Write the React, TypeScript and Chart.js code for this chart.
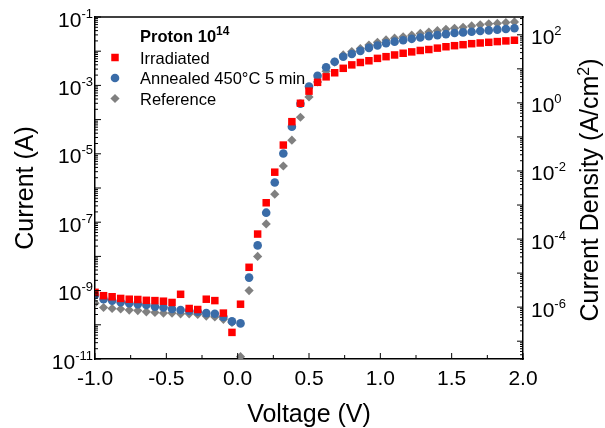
import { useEffect, useRef } from 'react';
import { Chart, registerables } from 'chart.js';

Chart.register(...registerables);

// ---------- data ----------
const voltage = [
  -1.0, -0.94, -0.88, -0.82, -0.76, -0.7, -0.64, -0.58, -0.52, -0.46,
  -0.4, -0.34, -0.28, -0.22, -0.16, -0.1, -0.04, 0.02, 0.08, 0.14,
  0.2, 0.26, 0.32, 0.38, 0.44, 0.5, 0.56, 0.62, 0.68, 0.74,
  0.8, 0.86, 0.92, 0.98, 1.04, 1.1, 1.16, 1.22, 1.28, 1.34,
  1.4, 1.46, 1.52, 1.58, 1.64, 1.7, 1.76, 1.82, 1.88, 1.94,
];

const irradiated = [
  8.9e-10, 7.1e-10, 6.6e-10, 5.9e-10, 5.6e-10, 5.5e-10, 5.2e-10, 5.1e-10, 4.9e-10, 4.5e-10,
  7.8e-10, 3.0e-10, 2.8e-10, 5.6e-10, 5.1e-10, 2.2e-10, 6.0e-11, 4.0e-10, 4.8e-9, 4.5e-8,
  3.7e-7, 2.9e-6, 1.8e-5, 8.7e-5, 3.0e-4, 6.8e-4, 1.23e-3, 1.78e-3, 2.34e-3, 3.16e-3,
  3.98e-3, 4.68e-3, 5.25e-3, 6.17e-3, 6.92e-3, 7.76e-3, 8.71e-3, 9.55e-3, 1.05e-2, 1.12e-2,
  1.23e-2, 1.35e-2, 1.45e-2, 1.55e-2, 1.66e-2, 1.74e-2, 1.82e-2, 1.91e-2, 2.0e-2, 2.09e-2,
];

const annealed = [
  7.4e-10, 5.6e-10, 5.1e-10, 4.6e-10, 4.3e-10, 4.0e-10, 3.8e-10, 3.4e-10, 3.2e-10, 2.9e-10,
  2.7e-10, 2.6e-10, 2.4e-10, 2.2e-10, 2.1e-10, 1.7e-10, 1.26e-10, 1.1e-10, 2.4e-9, 2.1e-8,
  1.9e-7, 1.45e-6, 1.02e-5, 6.2e-5, 2.9e-4, 9.3e-4, 1.9e-3, 3.4e-3, 4.9e-3, 6.9e-3,
  8.3e-3, 1.02e-2, 1.25e-2, 1.47e-2, 1.7e-2, 1.9e-2, 2.1e-2, 2.3e-2, 2.52e-2, 2.75e-2,
  2.95e-2, 3.16e-2, 3.39e-2, 3.55e-2, 3.72e-2, 3.9e-2, 4.07e-2, 4.27e-2, 4.47e-2, 4.68e-2,
];

const reference = [
  4.3e-10, 3.2e-10, 3.0e-10, 2.9e-10, 2.7e-10, 2.6e-10, 2.4e-10, 2.3e-10, 2.2e-10, 2.2e-10,
  2.1e-10, 2.1e-10, 2.0e-10, 1.8e-10, 1.7e-10, 1.45e-10, 1.17e-10, 1.17e-11, 1.0e-9, 1.0e-8,
  8.9e-8, 6.6e-7, 4.4e-6, 2.5e-5, 1.17e-4, 4.6e-4, 1.26e-3, 2.6e-3, 4.8e-3, 7.8e-3,
  9.8e-3, 1.2e-2, 1.51e-2, 1.82e-2, 2.14e-2, 2.4e-2, 2.63e-2, 2.95e-2, 3.31e-2, 3.63e-2,
  3.98e-2, 4.37e-2, 4.68e-2, 5.0e-2, 5.5e-2, 5.9e-2, 6.3e-2, 6.5e-2, 6.9e-2, 7.2e-2,
];

const seriesNames = ['Irradiated', 'Annealed 450°C 5 min', 'Reference'];
const seriesColors = ['#ff0000', '#3a6ca8', '#808080'];
const seriesStyles = ['rect', 'circle', 'rectRot'];
const seriesRadius = [5.3, 4.3, 4.6];

const legendTitle = 'Proton 10';
const legendTitleExp = '14';

const xTickValues = [-1.0, -0.5, 0.0, 0.5, 1.0, 1.5, 2.0];
const xTickLabels = ['-1.0', '-0.5', '0.0', '0.5', '1.0', '1.5', '2.0'];
const xMinorTicks = [-0.75, -0.25, 0.25, 0.75, 1.25, 1.75];
const leftLabelExponents = [-1, -3, -5, -7, -9, -11];
const rightLabelExponents = [2, 0, -2, -4, -6];

const xTitle = 'Voltage (V)';
const yTitle = 'Current (A)';
const y2Title = 'Current Density (A/cm';
const y2TitleExp = '2';
const y2TitleEnd = ')';

const DEVICE_AREA_CM2 = 3.0e-4;
const CURRENT_MIN = 1e-11;
const CURRENT_MAX = 1e-1;

const FONT = '"Liberation Sans", Arial, Helvetica, sans-serif';

function drawSup(
  ctx: CanvasRenderingContext2D,
  base: string,
  exp: string,
  x: number,
  baseY: number,
  expY: number,
  baseSize: number,
  expSize: number,
  align: 'left' | 'right' | 'center',
  bold = false,
) {
  const w = bold ? 'bold ' : '';
  const bf = `${w}${baseSize}px ${FONT}`;
  const ef = `${w}${expSize}px ${FONT}`;
  ctx.font = bf;
  const bw = ctx.measureText(base).width;
  ctx.font = ef;
  const ew = ctx.measureText(exp).width;
  const x0 = align === 'left' ? x : align === 'right' ? x - bw - ew : x - (bw + ew) / 2;
  ctx.textAlign = 'left';
  ctx.textBaseline = 'alphabetic';
  ctx.font = bf;
  ctx.fillText(base, x0, baseY);
  ctx.font = ef;
  ctx.fillText(exp, x0 + bw, expY);
}

function drawMarker(ctx: CanvasRenderingContext2D, style: string, x: number, y: number, r: number, color: string) {
  ctx.fillStyle = color;
  ctx.beginPath();
  if (style === 'rect') {
    const s = r * Math.SQRT1_2;
    ctx.rect(x - s, y - s, 2 * s, 2 * s);
  } else if (style === 'circle') {
    ctx.arc(x, y, r, 0, Math.PI * 2);
  } else {
    ctx.moveTo(x, y - r);
    ctx.lineTo(x + r, y);
    ctx.lineTo(x, y + r);
    ctx.lineTo(x - r, y);
    ctx.closePath();
  }
  ctx.fill();
}

const decorPlugin = {
  id: 'decor',
  afterDatasetsDraw(chart: any) {
    const ctx: CanvasRenderingContext2D = chart.ctx;
    const a = chart.chartArea;
    const xS = chart.scales.x;
    const yS = chart.scales.y;
    const y2S = chart.scales.y2;
    ctx.save();
    ctx.strokeStyle = '#000';
    ctx.fillStyle = '#000';

    // top frame line
    ctx.lineWidth = 1.5;
    ctx.beginPath();
    ctx.moveTo(a.left - 0.75, a.top);
    ctx.lineTo(a.right + 0.75, a.top);
    ctx.stroke();

    ctx.lineWidth = 1;
    const seg = (x1: number, y1: number, x2: number, y2: number) => {
      ctx.beginPath();
      ctx.moveTo(x1, y1);
      ctx.lineTo(x2, y2);
      ctx.stroke();
    };

    // log ticks (left & right)
    const logTicks = (scale: any, side: 'left' | 'right') => {
      const lo = Math.floor(Math.log10(scale.min)) - 1;
      const hi = Math.ceil(Math.log10(scale.max)) + 1;
      for (let e = lo; e <= hi; e++) {
        for (let m = 1; m < 10; m++) {
          const v = m * Math.pow(10, e);
          if (v < scale.min * 0.999 || v > scale.max * 1.001) continue;
          const py = scale.getPixelForValue(v);
          const len = m === 1 ? 6 : 3;
          if (side === 'left') seg(a.left, py, a.left + len, py);
          else seg(a.right, py, a.right - len, py);
        }
      }
    };
    logTicks(yS, 'left');
    logTicks(y2S, 'right');

    // x ticks
    xTickValues.forEach((v) => {
      const px = xS.getPixelForValue(v);
      seg(px, a.bottom, px, a.bottom - 6);
    });
    xMinorTicks.forEach((v) => {
      const px = xS.getPixelForValue(v);
      seg(px, a.bottom, px, a.bottom - 4);
    });

    // x tick labels
    ctx.font = `21px ${FONT}`;
    ctx.textAlign = 'center';
    ctx.textBaseline = 'alphabetic';
    xTickValues.forEach((v, i) => {
      ctx.fillText(xTickLabels[i], xS.getPixelForValue(v), a.bottom + 26);
    });

    // left y labels
    leftLabelExponents.forEach((e) => {
      const py = yS.getPixelForValue(Math.pow(10, e));
      drawSup(ctx, '10', String(e), a.left - 2, py + 9.5, py + 0.5, 21, 13, 'right');
    });

    // right y labels
    rightLabelExponents.forEach((e) => {
      const py = y2S.getPixelForValue(Math.pow(10, e));
      drawSup(ctx, '10', String(e), a.right + 8, py + 9.5, py + 0.5, 21, 13, 'left');
    });

    // axis titles
    ctx.font = `25px ${FONT}`;
    ctx.textAlign = 'center';
    ctx.textBaseline = 'alphabetic';
    ctx.fillText(xTitle, (a.left + a.right) / 2, 422);

    const midY = (a.top + a.bottom) / 2;
    ctx.save();
    ctx.translate(33, midY);
    ctx.rotate(-Math.PI / 2);
    ctx.font = `25px ${FONT}`;
    ctx.textAlign = 'center';
    ctx.fillText(yTitle, 0, 0);
    ctx.restore();

    ctx.save();
    ctx.translate(598, midY + 2);
    ctx.rotate(-Math.PI / 2);
    ctx.font = `25px ${FONT}`;
    const w1 = ctx.measureText(y2Title).width;
    const w3 = ctx.measureText(y2TitleEnd).width;
    ctx.font = `16px ${FONT}`;
    const w2 = ctx.measureText(y2TitleExp).width;
    const total = w1 + w2 + w3;
    let cx = -total / 2;
    ctx.textAlign = 'left';
    ctx.font = `25px ${FONT}`;
    ctx.fillText(y2Title, cx, 0);
    cx += w1;
    ctx.font = `16px ${FONT}`;
    ctx.fillText(y2TitleExp, cx, -9);
    cx += w2;
    ctx.font = `25px ${FONT}`;
    ctx.fillText(y2TitleEnd, cx, 0);
    ctx.restore();

    // legend
    const lx = a.left + 20;
    const tx = a.left + 45;
    ctx.fillStyle = '#000';
    drawSup(ctx, legendTitle, legendTitleExp, tx, 42, 35, 16.5, 12, 'left', true);
    seriesNames.forEach((name, i) => {
      const cy = 57.5 + i * 20.5;
      drawMarker(ctx, seriesStyles[i], lx, cy, seriesRadius[i], seriesColors[i]);
      ctx.fillStyle = '#000';
      ctx.font = `16.5px ${FONT}`;
      ctx.textAlign = 'left';
      ctx.textBaseline = 'alphabetic';
      ctx.fillText(name, tx, cy + 6);
    });

    ctx.restore();
  },
};

export default function App() {
  const canvasRef = useRef<HTMLCanvasElement | null>(null);

  useEffect(() => {
    const canvas = canvasRef.current;
    if (!canvas) return;
    const seriesValues = [irradiated, annealed, reference];
    const chart = new Chart(canvas, {
      type: 'scatter',
      data: {
        datasets: seriesValues.map((vals, i) => ({
          label: seriesNames[i],
          data: voltage.map((v, k) => ({ x: v, y: vals[k] })),
          pointStyle: seriesStyles[i] as any,
          pointRadius: seriesRadius[i],
          pointBackgroundColor: seriesColors[i],
          pointBorderColor: seriesColors[i],
          pointBorderWidth: 0,
          showLine: false,
          yAxisID: 'y',
        })),
      },
      options: {
        responsive: false,
        animation: false,
        events: [],
        layout: { padding: { top: 17, left: 0, right: 0, bottom: 0 } },
        plugins: {
          legend: { display: false },
          tooltip: { enabled: false },
          title: { display: false },
        },
        scales: {
          x: {
            type: 'linear',
            position: 'bottom',
            min: -1,
            max: 2,
            grid: { display: false, drawTicks: false },
            border: { display: true, color: '#000', width: 1.5 },
            ticks: { display: false },
            afterFit: (s: any) => {
              s.height = 69;
            },
          },
          y: {
            type: 'logarithmic',
            position: 'left',
            min: CURRENT_MIN,
            max: CURRENT_MAX,
            grid: { display: false, drawTicks: false },
            border: { display: true, color: '#000', width: 1.5 },
            ticks: { display: false },
            afterFit: (s: any) => {
              s.width = 95;
            },
          },
          y2: {
            type: 'logarithmic',
            position: 'right',
            min: CURRENT_MIN / DEVICE_AREA_CM2,
            max: CURRENT_MAX / DEVICE_AREA_CM2,
            grid: { display: false, drawTicks: false },
            border: { display: true, color: '#000', width: 1.5 },
            ticks: { display: false },
            afterFit: (s: any) => {
              s.width = 82;
            },
          },
        },
      } as any,
      plugins: [decorPlugin],
    });
    return () => chart.destroy();
  }, []);

  return (
    <div style={{ position: 'absolute', left: 0, top: 0, width: 605, height: 428, background: '#fff' }}>
      <canvas ref={canvasRef} width={605} height={428} style={{ display: 'block' }} />
    </div>
  );
}
